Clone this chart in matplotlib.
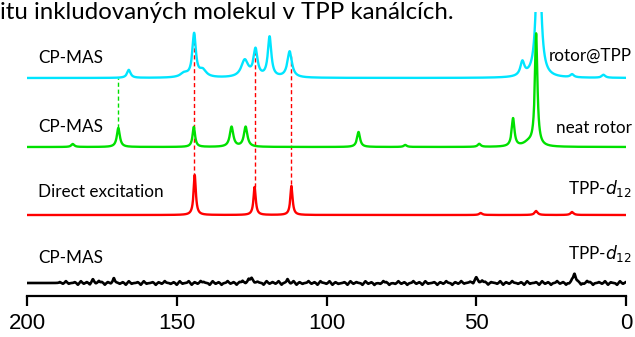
import numpy as np
import matplotlib
matplotlib.use("Agg")
import matplotlib.pyplot as plt

# chemical shift axis (ppm), reversed as usual for NMR
PPM_RANGE = (200, 0)
TICKS = [200, 150, 100, 50, 0]

# peak lists: position (ppm), height (arb. units), half width (ppm)
CYAN_PPM = [166.0, 147.5, 144.2, 141.3, 127.3, 123.7, 119.0, 112.3, 34.6, 29.2, 18.0, 7.5]
CYAN_H = [8, 4, 43, 7, 17, 27, 40, 26, 14, 170, 3, 3]
CYAN_W = [0.7, 1.5, 0.7, 1.4, 1.4, 0.8, 0.7, 0.9, 0.8, 0.8, 0.7, 0.7]

GREEN_PPM = [184.7, 169.5, 144.3, 131.7, 127.0, 89.3, 73.7, 49.0, 37.7, 32.5, 30.0]
GREEN_H = [3, 19, 20, 20, 20, 15, 2, 3, 28, 4, 112]
GREEN_W = [0.6, 0.6, 0.5, 0.7, 0.7, 0.6, 0.6, 0.6, 0.55, 2.0, 0.5]

RED_PPM = [144.0, 124.0, 111.7, 48.5, 30.0, 18.0]
RED_H = [40, 28, 29, 2, 4, 3]
RED_W = [0.45, 0.45, 0.45, 0.6, 0.6, 0.6]

BLACK_PPM = [178.0, 171.0, 125.0, 113.0, 50.0, 17.2]
BLACK_H = [4, 3, 3, 3, 4, 9]
BLACK_W = [0.4, 0.4, 0.8, 0.4, 0.8, 0.5]
# baseline noise of the bottom spectrum, read every 1 ppm from 0 to 200
BLACK_NOISE = [1, -1, 2, -2, 0, 1, -2, 2, -1, 1, 0, -2, 1, 2, -1, -2, 1, 0, 2, -1,
               -2, 1, -1, 2, 0, -2, 1, -1, 2, -2, 1, 0, -1, 2, -2, 1, -1, 0, 2, -1,
               1, -2, 2, -1, 0, 1, -2, 1, 2, -1, 2, -2, 1, 0, -1, 2, -1, 1, -2, 0,
               2, -1, 1, -2, 1, 0, -1, 2, -2, 1, -1, 2, 0, -2, 1, -1, 2, -1, 0, -2,
               1, 2, -1, 0, -2, 1, -1, 2, -2, 0, 1, -1, 2, -2, 1, 0, -1, 1, -2, 2,
               -1, 0, 2, -2, 1, -1, 2, 0, -1, 1, -2, 2, -1, 1, 0, -2, 2, -1, 1, -1,
               2, -2, 0, 1, -1, 2, 3, -1, 2, 1, -2, 1, -1, 2, 0, -2, 1, -1, 2, -2,
               0, 1, 2, -1, 1, -2, 2, 0, -1, 2, -2, 1, -1, 0, 2, -1, 1, -2, 1, 0,
               -1, 2, -2, 1, 0, -1, 2, -2, 1, -1, 0, 2, -1, 1, -2, 1, 2, -1, 0, -2,
               1, -1, 2, -2, 1, 0, -1, 2, -1, 1, 0]

SPECTRA = [
    # color, offset, peaks, left label, right label
    ("#00E5FF", 218, (CYAN_PPM, CYAN_H, CYAN_W), "CP-MAS", "rotor@TPP"),
    ("#00E000", 149, (GREEN_PPM, GREEN_H, GREEN_W), "CP-MAS", "neat rotor"),
    ("#FF0000", 81, (RED_PPM, RED_H, RED_W), "Direct excitation", r"TPP-$\mathit{d}_{12}$"),
    ("#000000", 13, (BLACK_PPM, BLACK_H, BLACK_W), "CP-MAS", r"TPP-$\mathit{d}_{12}$"),
]

RED_LINKS = [144.1, 124.0, 111.9]
GREEN_LINK = 169.5


def lorentz_sum(x, pos, h, w):
    y = np.zeros_like(x)
    for p, a, g in zip(pos, h, w):
        y += a / (1 + ((x - p) / g) ** 2)
    return y


x = np.linspace(0, 200, 8001)
curves = {}
for color, off, (pos, h, w), _, _ in SPECTRA:
    y = lorentz_sum(x, pos, h, w) + off
    if color == "#000000":
        npos = np.arange(0, 201, 1)
        y += lorentz_sum(x, npos, BLACK_NOISE, [0.33] * len(npos))
    curves[color] = y

W, H = 635, 337
fig = plt.figure(figsize=(W / 100, H / 100), dpi=100)
ax_bottom = 296
ax_top = 12
ax = fig.add_axes([27 / W, (H - ax_bottom) / H, (626 - 27) / W, (ax_bottom - ax_top) / H])
ax.set_xlim(*PPM_RANGE)
ax.set_ylim(0, ax_bottom - ax_top)

for color, off, _, _, _ in SPECTRA:
    ax.plot(x, curves[color], color=color, lw=1.9 if color == "#000000" else 1.7, zorder=3)

cy = curves["#00E5FF"]
rd = curves["#FF0000"]
gr = curves["#00E000"]
for p in RED_LINKS:
    ax.plot([p, p], [np.interp(p, x, rd), np.interp(p, x, cy)], color="#FF0000",
            lw=1.0, dashes=(3, 2), zorder=2)
ax.plot([GREEN_LINK, GREEN_LINK], [np.interp(GREEN_LINK, x, gr), np.interp(GREEN_LINK, x, cy)],
        color="#00E000", lw=1.0, dashes=(3, 2), zorder=2)

for s in ["top", "left", "right"]:
    ax.spines[s].set_visible(False)
ax.spines["bottom"].set_linewidth(1.6)
ax.set_yticks([])
ax.set_xticks(TICKS)
ax.set_xticklabels([str(t) for t in TICKS], fontsize=16, family="Liberation Sans")
ax.tick_params(axis="x", direction="out", length=7, width=1.6, pad=5)

left_base = [63, 132, 197, 263]
right_base = [61, 133, 194, 259]
for (color, off, _, left, right), yl, yr in zip(SPECTRA, left_base, right_base):
    fig.text(38 / W, 1 - yl / H, left, fontsize=12.3, family="Lato", va="baseline", ha="left")
    fig.text(632 / W, 1 - yr / H, right, fontsize=12.3, family="Lato", va="baseline", ha="right")

fig.text(0, 1 - 19 / H, "itu inkludovaných molekul v TPP kanálcích.", fontsize=17.3,
         family="Lato", va="baseline", ha="left")

fig.savefig("out.png", dpi=100)
